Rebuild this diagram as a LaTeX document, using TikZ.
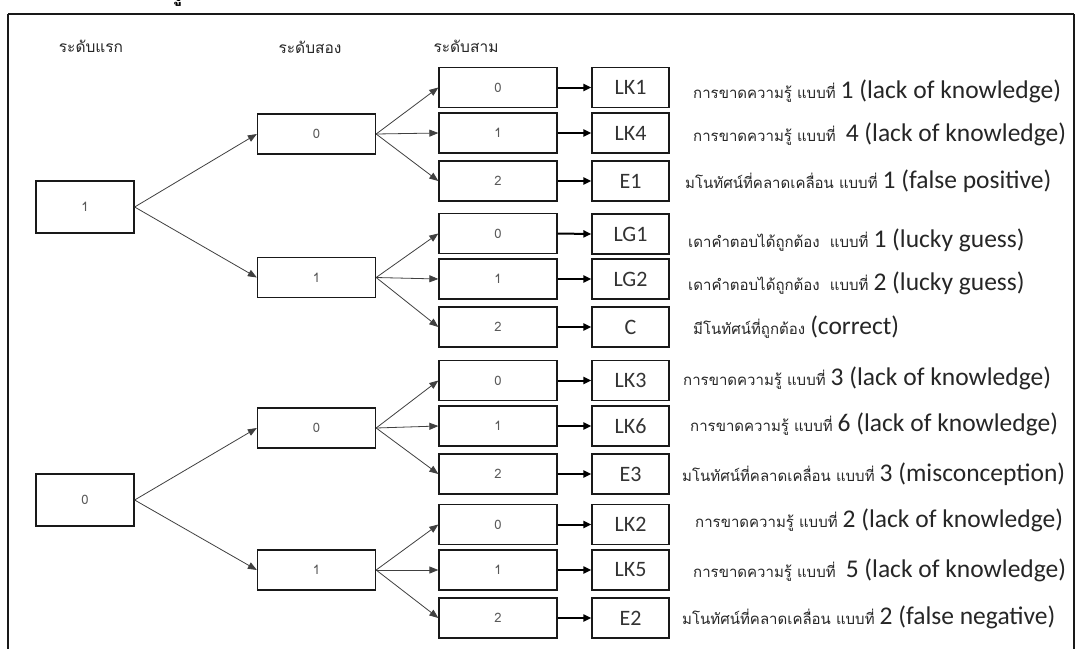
\documentclass[tikz,border=0pt]{standalone}
\usepackage{fontspec}
\setmainfont{Carlito}
\newfontfamily\thaifont[Script=Thai]{Loma}
\newfontfamily\engfont{Carlito}
\usetikzlibrary{arrows.meta}
\newcommand\ent[1]{{\engfont\fontsize{25.5}{28}\selectfont #1}}
\begin{document}
\begin{tikzpicture}[x=1pt,y=-1pt,
  boxbase/.style={draw=black!90, line width=1.3pt, inner sep=0pt, text=black!65,
    font=\thaifont\fontsize{13}{15}\selectfont},
  lone/.style={boxbase, minimum width=98pt, minimum height=52pt},
  ltwo/.style={boxbase, minimum width=118pt, minimum height=40pt},
  lthree/.style={boxbase, minimum width=118pt, minimum height=40pt},
  resbox/.style={draw=black!90, line width=1.3pt, inner sep=0pt, minimum width=77pt,
    minimum height=40pt, text=black!80, font=\engfont\fontsize{22}{24}\selectfont},
  tarr/.style={draw=black!75, line width=0.8pt, -{Triangle[length=9pt,width=7pt]}},
  karr/.style={draw=black, line width=2pt, -{Triangle[length=8pt,width=7pt]}},
  hdr/.style={text=black!85, font=\thaifont\fontsize{15.5}{18}\selectfont, inner sep=0pt},
  lbl/.style={anchor=west, inner sep=0pt, text=black!85, font=\thaifont\fontsize{15}{17}\selectfont}]
\useasboundingbox (0,0) rectangle (1076,648);
\fill[white] (0,0) rectangle (1076,648);
% frame
\draw[line width=1.3pt, black!90] (8,14) -- (1074,14);
\draw[line width=1.3pt, black!90] (8,14) -- (8,660);
\draw[line width=1.3pt, black!90] (1074,14) -- (1074,660);
% cut-off title fragment
\node[anchor=base, inner sep=0pt, font=\thaifont\bfseries\fontsize{20}{24}\selectfont] (frag) at (177,1) {รู};
% headers
\node[hdr] (h1) at (91,46) {ระดับแรก};
\node[hdr] (h2) at (310,47) {ระดับสอง};
\node[hdr] (h3) at (466,46) {ระดับสาม};
% level 1
\node[lone] (a1) at (85,207) {1};
\node[lone] (a0) at (85,500) {0};
% level 2
\node[ltwo] (b0) at (316.5,134) {0};
\node[ltwo] (b1) at (316.5,277.5) {1};
\node[ltwo] (b2) at (316.5,428) {0};
\node[ltwo] (b3) at (316.5,570) {1};
\draw[tarr] (a1.east) -- (b0.west);
\draw[tarr] (a1.east) -- (b1.west);
\draw[tarr] (a0.east) -- (b2.west);
\draw[tarr] (a0.east) -- (b3.west);
% level 3
\foreach \g/\m in {0/133,1/279,2/426,3/570}{
  \foreach \k/\dy in {0/-45.5,1/0,2/48}{
    \node[lthree] (c\g\k) at (498,\m+\dy) {\k};
    \draw[tarr] (b\g.east) -- (c\g\k.west);
  }
}
% results
\node[resbox] (r00) at (630.5,87.5) {LK1};
\node[resbox] (r01) at (630.5,133) {LK4};
\node[resbox] (r02) at (630.5,181) {E1};
\node[resbox] (r10) at (630.5,234) {LG1};
\node[resbox] (r11) at (630.5,279) {LG2};
\node[resbox] (r12) at (630.5,327) {C};
\node[resbox] (r20) at (630.5,380.5) {LK3};
\node[resbox] (r21) at (630.5,426) {LK6};
\node[resbox] (r22) at (630.5,474) {E3};
\node[resbox] (r30) at (630.5,524.5) {LK2};
\node[resbox] (r31) at (630.5,570) {LK5};
\node[resbox] (r32) at (630.5,618) {E2};
\foreach \g in {0,1,2,3}{
  \foreach \k in {0,1,2}{
    \draw[karr] (c\g\k.east) -- (r\g\k.west);
  }
}
% labels
\node[lbl] (t00) at (693,91) {การขาดความรู้ แบบที่ \ent{1 (lack of knowledge)}};
\node[lbl] (t01) at (693,134) {การขาดความรู้ แบบที่\ \ \ent{4 (lack of knowledge)}};
\node[lbl] (t02) at (685,181) {มโนทัศน์ที่คลาดเคลื่อน แบบที่ \ent{1 (false positive)}};
\node[lbl] (t10) at (688,240) {เดาคำตอบได้ถูกต้อง\ \ แบบที่ \ent{1 (lucky guess)}};
\node[lbl] (t11) at (688,283) {เดาคำตอบได้ถูกต้อง\ \ แบบที่ \ent{2 (lucky guess)}};
\node[lbl] (t12) at (693,327) {มีโนทัศน์ที่ถูกต้อง \ent{(correct)}};
\node[lbl] (t20) at (683,378) {การขาดความรู้ แบบที่ \ent{3 (lack of knowledge)}};
\node[lbl] (t21) at (690,424) {การขาดความรู้ แบบที่ \ent{6 (lack of knowledge)}};
\node[lbl] (t22) at (682,474) {มโนทัศน์ที่คลาดเคลื่อน แบบที่ \ent{3 (misconception)}};
\node[lbl] (t30) at (695,520) {การขาดความรู้ แบบที่ \ent{2 (lack of knowledge)}};
\node[lbl] (t31) at (693,570) {การขาดความรู้ แบบที่\ \ \ent{5 (lack of knowledge)}};
\node[lbl] (t32) at (682,617) {มโนทัศน์ที่คลาดเคลื่อน แบบที่ \ent{2 (false negative)}};
\end{tikzpicture}
\end{document}
